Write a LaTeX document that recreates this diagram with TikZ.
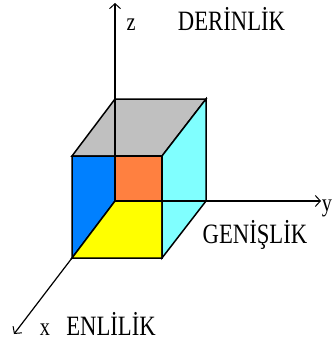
\documentclass[tikz,border=0pt]{standalone}
\usepackage{fontspec}
\setmainfont{Liberation Serif}
\usetikzlibrary{arrows.meta}
\definecolor{pureyellow}{RGB}{255,255,0}
\definecolor{faceblue}{RGB}{0,128,255}
\definecolor{faceorange}{RGB}{255,128,64}
\definecolor{facecyan}{RGB}{128,255,255}
\definecolor{facegray}{RGB}{192,192,192}
\tikzset{
  face/.style={draw=black,line width=1.5pt,line join=miter},
  thin face/.style={draw=black,line width=1.3pt},
  axis/.style={draw=black,line width=1.2pt,-{Straight Barb[length=5pt,width=11pt,line width=1pt]}},
  lab/.style={inner sep=0pt,anchor=base,font=\fontsize{28}{30}\selectfont,xscale=.81},
  ax/.style={inner sep=0pt,anchor=base,font=\fontsize{23}{26}\selectfont,xscale=.88,yscale=1.1}
}
\begin{document}
\begin{tikzpicture}[x=1pt,y=-1pt]
\useasboundingbox (0,0) rectangle (332,345);
\coordinate (O) at (115,201);
\coordinate (A) at (72,258);
\coordinate (B) at (162,258);
\coordinate (C) at (206,201);
\coordinate (D) at (115,99);
\coordinate (E) at (206,99);
\coordinate (F) at (72,156);
\coordinate (G) at (162,156);
\coordinate (H) at (115,156);
\coordinate (J) at (162,201);
\coordinate (Z) at (115,3);
\coordinate (Y) at (321,201);
\coordinate (X) at (14,334);
\path[face,fill=facegray] (F)--(D)--(E)--(G)--cycle;
\path[face,fill=faceblue] (F)--(H)--(O)--(A)--cycle;
\path[face,fill=faceorange] (H)--(G)--(J)--(O)--cycle;
\path[face,fill=pureyellow] (O)--(J)--(B)--(A)--cycle;
\path[face,fill=facecyan] (G)--(E)--(C)--(B)--cycle;
\draw[thin face] (J)--(C);
\draw[axis] (D)--(Z);
\draw[thin face] (D)--(O);
\draw[axis] (C)--(Y);
\draw[axis] (A)--(X);
\node[lab] (d) at (231.5,31) {DERİNLİK};
\node[lab] (g) at (255,243) {GENİŞLİK};
\node[lab] (e) at (111,335) {ENLİLİK};
\node[ax] (z) at (131,31) {z};
\node[ax] (y) at (327,211) {y};
\node[ax] (x) at (45,335) {x};
\end{tikzpicture}
\end{document}
